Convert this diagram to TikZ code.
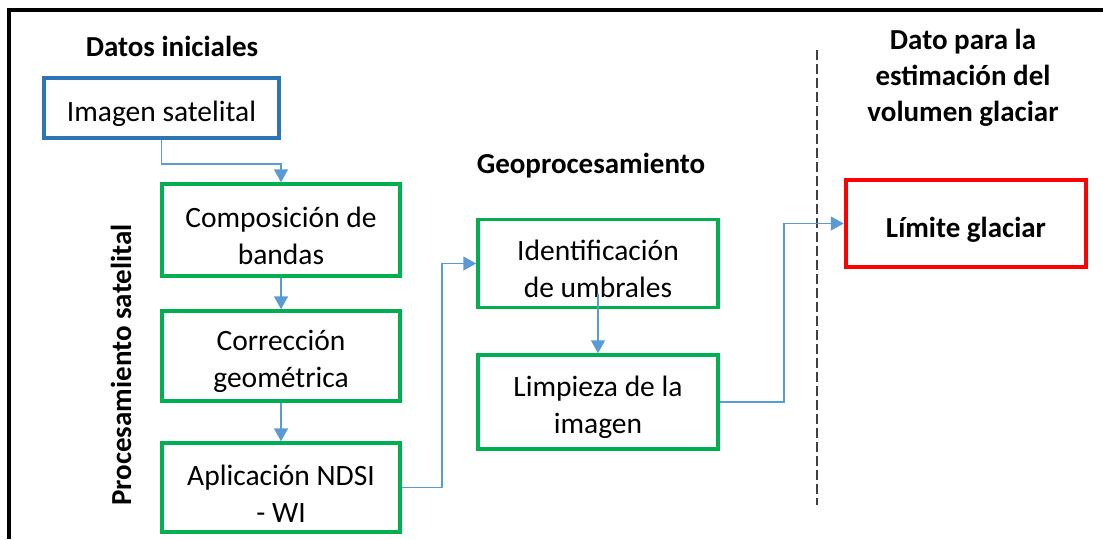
\documentclass[tikz,border=0pt]{standalone}
\usepackage{fontspec}
\setmainfont{Carlito}
\usetikzlibrary{arrows.meta}
\definecolor{boxblue}{HTML}{2E75B6}
\definecolor{linkblue}{HTML}{5B9BD5}
\definecolor{boxgreen}{HTML}{00B050}
\definecolor{divgray}{HTML}{404040}
\newcommand{\topstrut}{\rule{0pt}{32pt}}
\begin{document}
\begin{tikzpicture}[x=1pt,y=-1pt,
  every node/.style={inner sep=0pt,align=center,font=\fontsize{29.5}{37}\selectfont},
  box/.style={draw,rectangle,line width=3.5pt,minimum width=238pt,minimum height=90pt},
  title/.style={font=\fontsize{29}{36}\selectfont\bfseries},
  link/.style={draw=linkblue,line width=1.5pt,
    arrows={-{Triangle[width=14pt,length=13pt,color=linkblue]}}}]
  \useasboundingbox (0,0) rectangle (1103,539);
  % frame
  \draw[line width=4.5pt] (9,539) -- (9,10) -- (1103,10);
  % headings
  \node[title] (hdinit) at (172,46) {Datos iniciales};
  \node[title] (hdgeo) at (591,166) {Geoprocesamiento};
  \node[title] (hddato) at (963,78) {Dato para la\\estimación del\\volumen glaciar};
  \node[title,rotate=90] (hdproc) at (121,365) {Procesamiento satelital};
  % boxes
  \node[box,draw=boxblue,minimum width=235pt,minimum height=60pt] (img) at (161.5,108) {\topstrut Imagen satelital};
  \node[box,draw=boxgreen,minimum height=92pt] (comp) at (281,230) {\topstrut Composición de\\bandas};
  \node[box,draw=boxgreen] (corr) at (281,356) {\topstrut Corrección\\geométrica};
  \node[box,draw=boxgreen,minimum height=89pt] (ndsi) at (281,487.5) {\topstrut Aplicación NDSI\\- WI};
  \node[box,draw=boxgreen,minimum width=240pt,minimum height=88pt] (ident) at (598,263.5) {\topstrut Identificación\\de umbrales};
  \node[box,draw=boxgreen,minimum width=240pt,minimum height=94pt] (limp) at (598,402) {\topstrut Limpieza de la\\imagen};
  \node[box,draw=red,line width=4.5pt,minimum width=240pt,minimum height=87pt,
    font=\fontsize{29}{36}\selectfont\bfseries] (lim) at (966,223.5) {\topstrut Límite glaciar};
  % divider
  \draw[divgray,line width=1.4pt,dash pattern=on 10pt off 4pt] (817,50) -- (817,505);
  % connectors
  \draw[link] (img.south) -- ++(0,24) -| (comp.north);
  \draw[link] (comp.south) -- (corr.north);
  \draw[link] (corr.south) -- (ndsi.north);
  \draw[link] (ndsi.east) -- ++(40,0) |- (ident.west);
  \draw[link] ([yshift=15pt]ident.south) -- (limp.north);
  \draw[link] (limp.east) -- ++(64,0) |- (lim.west);
\end{tikzpicture}
\end{document}
